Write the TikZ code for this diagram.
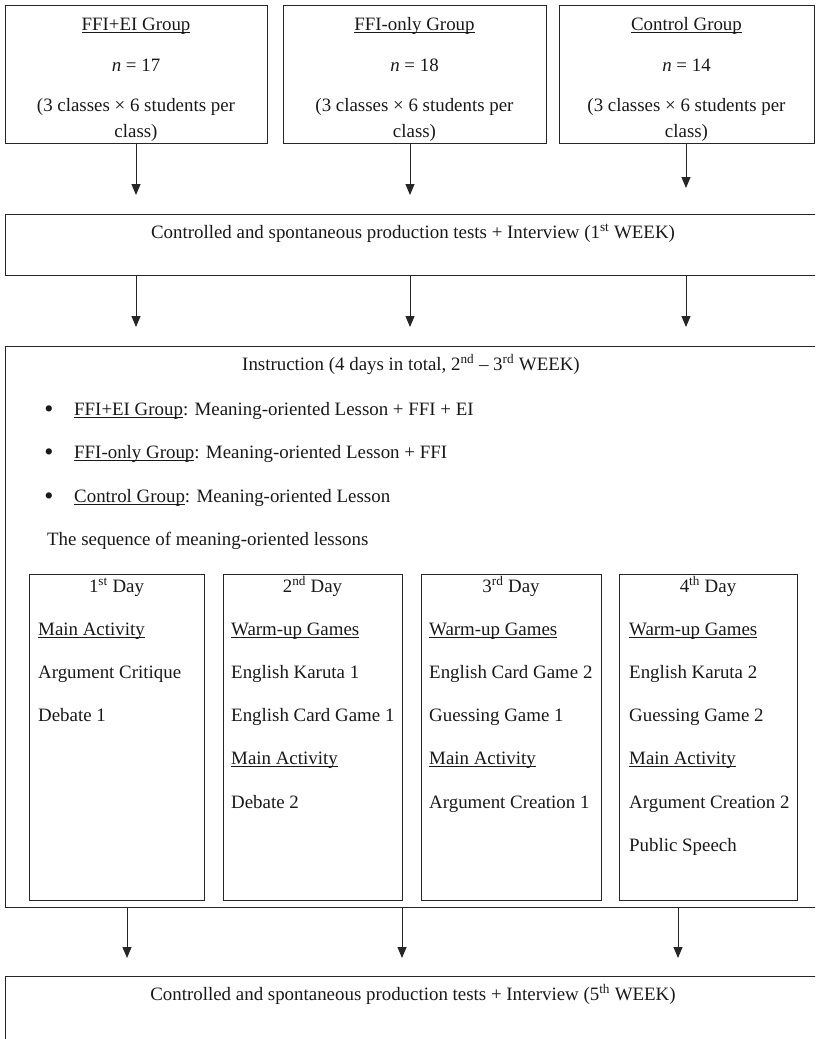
\documentclass[tikz,border=0pt]{standalone}
\usepackage{fontspec}
\setmainfont{Liberation Serif}
\usetikzlibrary{arrows.meta}
\newlength\ulw
\newcommand\myul[1]{\settowidth\ulw{#1}\rlap{\rule[-2.4pt]{\ulw}{0.9pt}}#1}
\newcommand\sups[1]{\textsuperscript{#1}}
\begin{document}
\begin{tikzpicture}[x=1pt,y=-1pt,
  box/.style={draw=black!85, line width=1pt, rectangle, inner sep=0pt},
  txt/.style={font=\fontsize{18.9}{22}\selectfont, inner sep=0pt, anchor=base, text=black!90},
  txtl/.style={txt, anchor=base west},
  bul/.style={font=\fontsize{26}{26}\selectfont, inner sep=0pt, anchor=base, text=black!90},
  arr/.style={draw=black!85, line width=1pt, -{Triangle[length=11pt,width=9pt]}}]
\useasboundingbox (0,0) rectangle (815,1039);
\clip (0,0) rectangle (815,1039);
% boxes
\node[box, minimum width=262pt, minimum height=138pt] (g1) at (136,74) {};
\node[box, minimum width=263pt, minimum height=138pt] (g2) at (414.5,74) {};
\node[box, minimum width=255pt, minimum height=138pt] (g3) at (686.5,74) {};
\node[box, minimum width=825pt, minimum height=61pt] (pre) at (417.5,244.5) {};
\node[box, minimum width=825pt, minimum height=561pt] (ins) at (417.5,626.5) {};
\node[box, minimum width=175pt, minimum height=326pt] (d1) at (116.5,737) {};
\node[box, minimum width=179pt, minimum height=326pt] (d2) at (312.5,737) {};
\node[box, minimum width=180pt, minimum height=326pt] (d3) at (511,737) {};
\node[box, minimum width=178pt, minimum height=326pt] (d4) at (708,737) {};
\node[box, minimum width=825pt, minimum height=84pt] (post) at (417.5,1018) {};
% top box texts
\node[txt] (g1a) at (136,30) {\myul{FFI+EI Group}};
\node[txt] (g1b) at (136,71) {\textit{n} = 17};
\node[txt] (g1c) at (136,111) {(3 classes × 6 students per};
\node[txt] (g1d) at (136,137) {class)};
\node[txt] (g2a) at (414.5,30) {\myul{FFI-only Group}};
\node[txt] (g2b) at (414.5,71) {\textit{n} = 18};
\node[txt] (g2c) at (414.5,111) {(3 classes × 6 students per};
\node[txt] (g2d) at (414.5,137) {class)};
\node[txt] (g3a) at (686.5,30) {\myul{Control Group}};
\node[txt] (g3b) at (686.5,71) {\textit{n} = 14};
\node[txt] (g3c) at (686.5,111) {(3 classes × 6 students per};
\node[txt] (g3d) at (686.5,137) {class)};
% pre test
\node[txt] (pret) at (413,238) {Controlled and spontaneous production tests + Interview (1\sups{st} WEEK)};
% instruction
\node[txt] (inst) at (411,370) {Instruction (4 days in total, 2\sups{nd} -- 3\sups{rd} WEEK)};
\node[bul] (b1) at (49,417) {\textbullet};
\node[txtl] (b1t) at (74,415) {\myul{FFI+EI Group}: Meaning-oriented Lesson + FFI + EI};
\node[bul] (b2) at (49,460) {\textbullet};
\node[txtl] (b2t) at (74,458) {\myul{FFI-only Group}: Meaning-oriented Lesson + FFI};
\node[bul] (b3) at (49,504) {\textbullet};
\node[txtl] (b3t) at (74,502) {\myul{Control Group}: Meaning-oriented Lesson};
\node[txtl] (seq) at (47,545) {The sequence of meaning-oriented lessons};
% days
\node[txt] (h1) at (116.5,592) {1\sups{st} Day};
\node[txt] (h2) at (312.5,592) {2\sups{nd} Day};
\node[txt] (h3) at (511,592) {3\sups{rd} Day};
\node[txt] (h4) at (708,592) {4\sups{th} Day};
\node[txtl] (d1a) at (38,635) {\myul{Main Activity}};
\node[txtl] (d1b) at (38,678.3) {Argument Critique};
\node[txtl] (d1c) at (38,721.6) {Debate 1};
\node[txtl] (d2a) at (231,635) {\myul{Warm-up Games}};
\node[txtl] (d2b) at (231,678.3) {English Karuta 1};
\node[txtl] (d2c) at (231,721.6) {English Card Game 1};
\node[txtl] (d2d) at (231,764.9) {\myul{Main Activity}};
\node[txtl] (d2e) at (231,808.2) {Debate 2};
\node[txtl] (d3a) at (429,635) {\myul{Warm-up Games}};
\node[txtl] (d3b) at (429,678.3) {English Card Game 2};
\node[txtl] (d3c) at (429,721.6) {Guessing Game 1};
\node[txtl] (d3d) at (429,764.9) {\myul{Main Activity}};
\node[txtl] (d3e) at (429,808.2) {Argument Creation 1};
\node[txtl] (d4a) at (629,635) {\myul{Warm-up Games}};
\node[txtl] (d4b) at (629,678.3) {English Karuta 2};
\node[txtl] (d4c) at (629,721.6) {Guessing Game 2};
\node[txtl] (d4d) at (629,764.9) {\myul{Main Activity}};
\node[txtl] (d4e) at (629,808.2) {Argument Creation 2};
\node[txtl] (d4f) at (629,851.5) {Public Speech};
% post test
\node[txt] (postt) at (413,1000) {Controlled and spontaneous production tests + Interview (5\sups{th} WEEK)};
% arrow tips
\coordinate (t1) at (136,195);
\coordinate (t2) at (410,195);
\coordinate (t3) at (686,188);
\coordinate (m1) at (136,327);
\coordinate (m2) at (410,327);
\coordinate (m3) at (686,327);
\coordinate (p1) at (127,958);
\coordinate (p2) at (402,958);
\coordinate (p3) at (678,958);
\draw[arr] (g1.south -| t1) -- (t1);
\draw[arr] (g2.south -| t2) -- (t2);
\draw[arr] (g3.south -| t3) -- (t3);
\draw[arr] (pre.south -| m1) -- (m1);
\draw[arr] (pre.south -| m2) -- (m2);
\draw[arr] (pre.south -| m3) -- (m3);
\draw[arr] (ins.south -| p1) -- (p1);
\draw[arr] (ins.south -| p2) -- (p2);
\draw[arr] (ins.south -| p3) -- (p3);
\end{tikzpicture}
\end{document}
